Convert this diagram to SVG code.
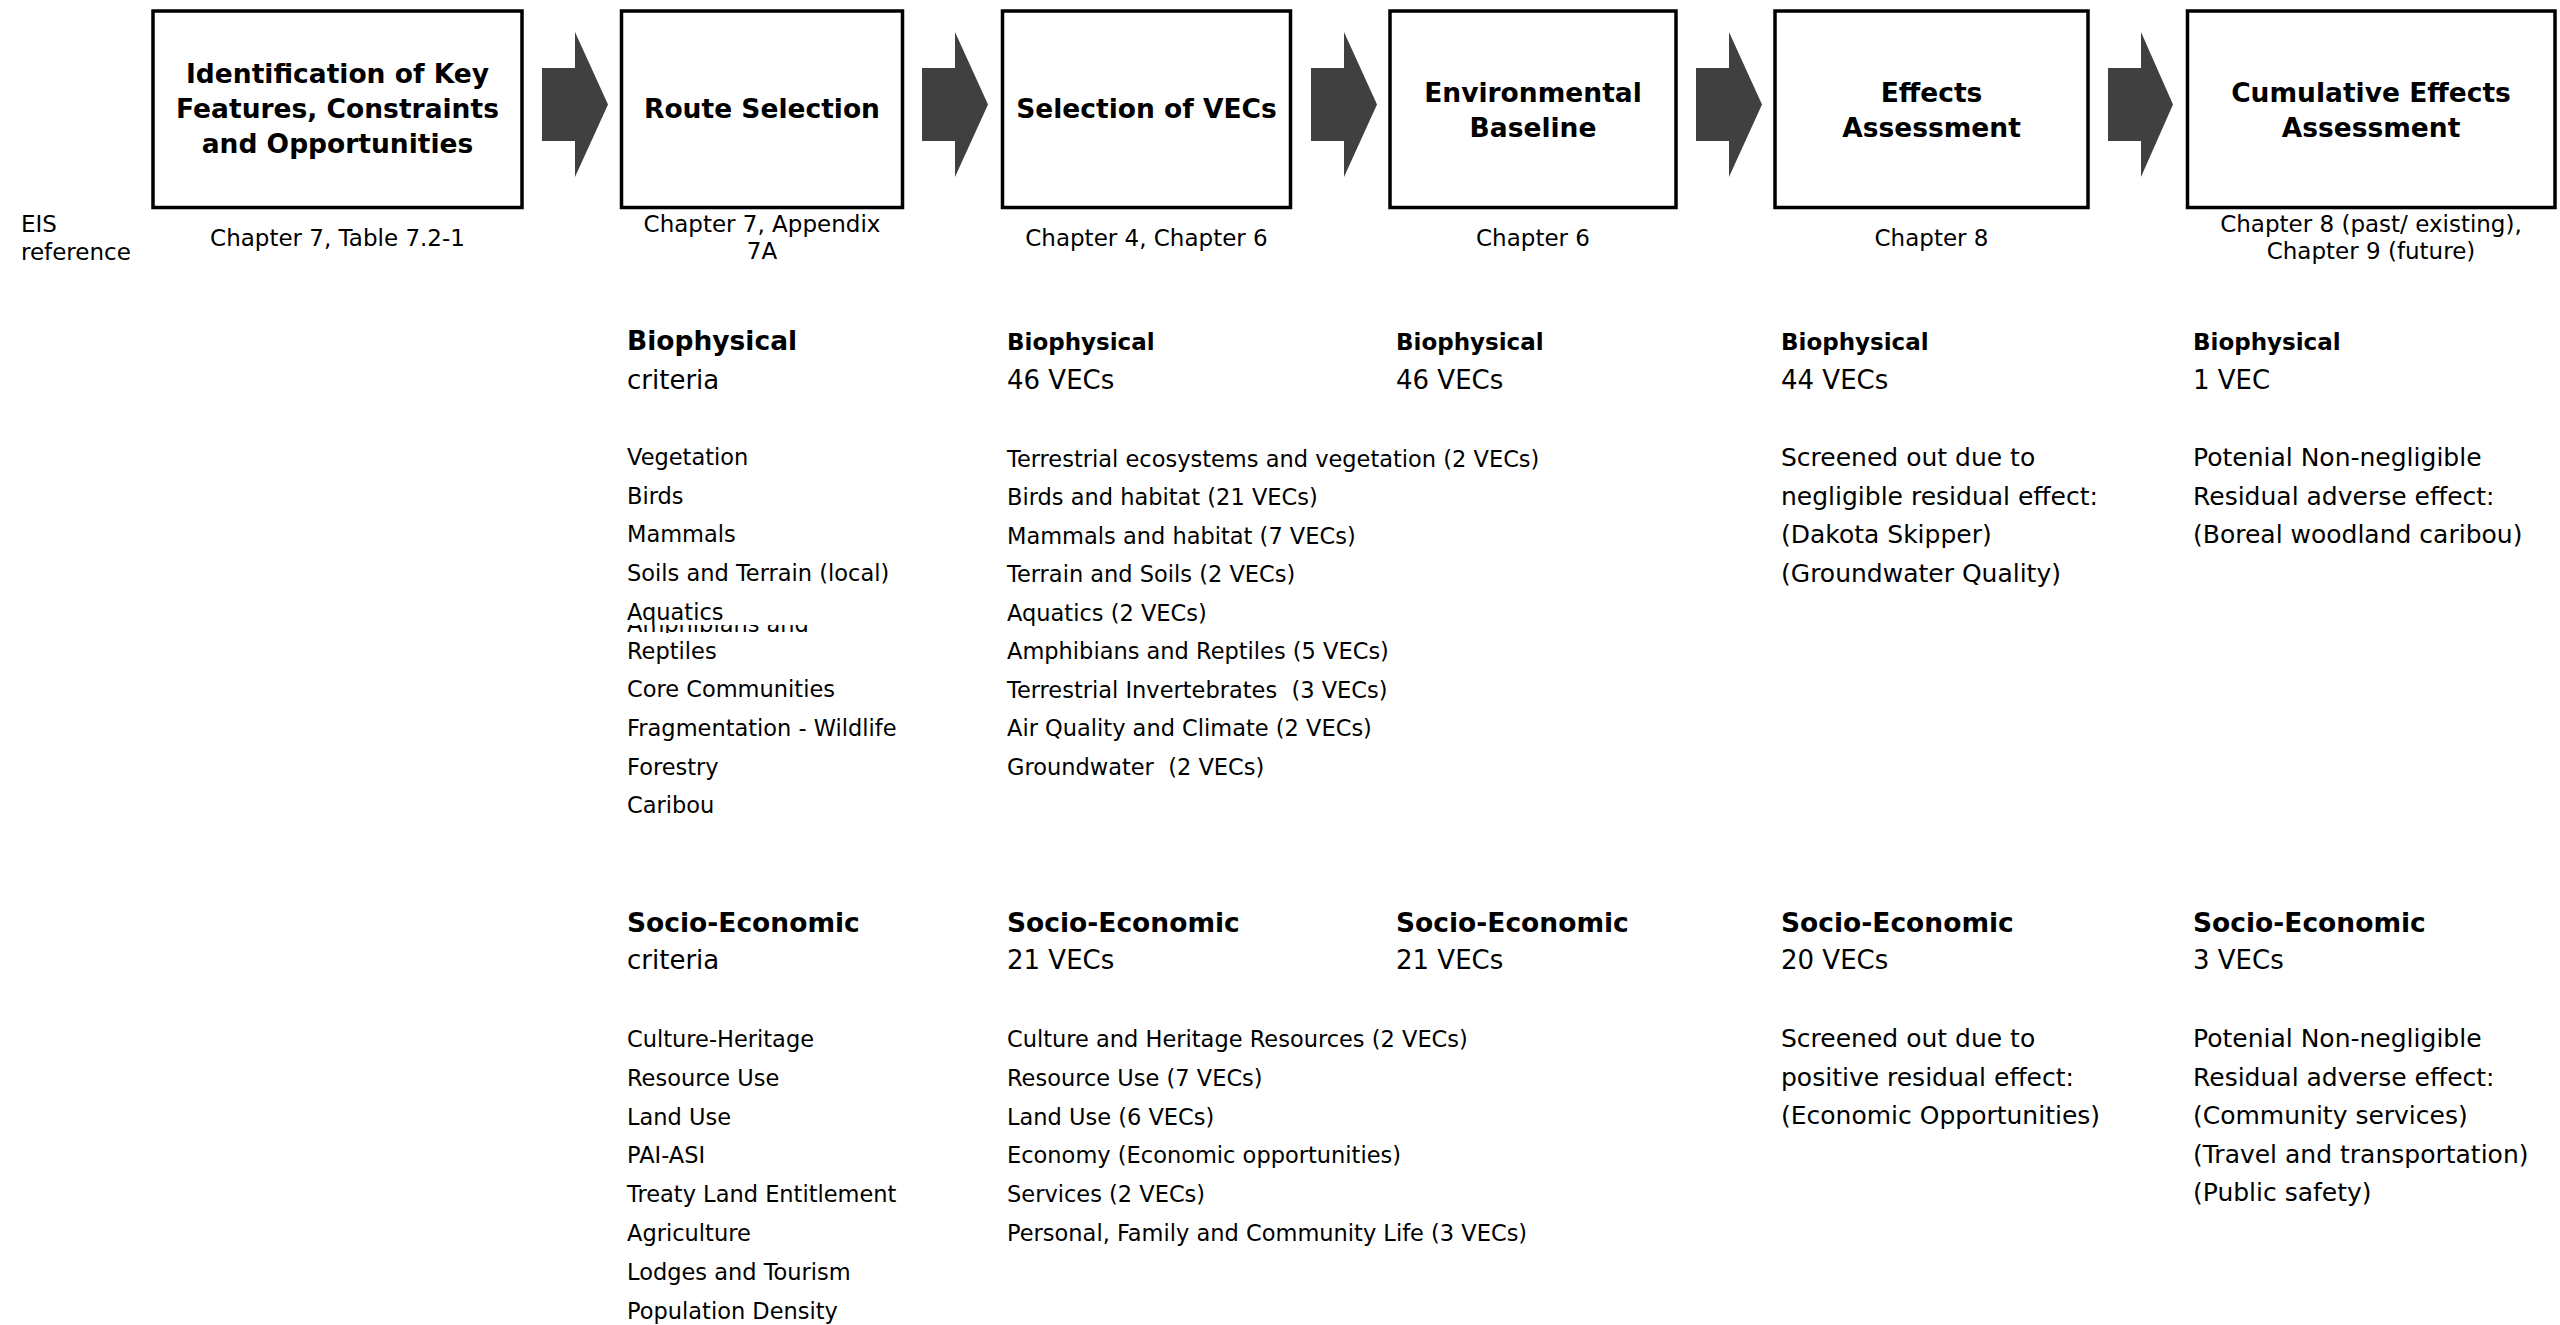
<svg xmlns="http://www.w3.org/2000/svg" width="2560" height="1325" viewBox="0 0 2560 1325">
<style>
text{font-family:"DejaVu Sans",Verdana,sans-serif;fill:#000}
.box{fill:#fff;stroke:#000;stroke-width:3.5}
.arrow{fill:#404040}
.title{font-weight:bold;font-size:26.5px;text-anchor:middle}
.chap{font-size:23px;text-anchor:middle}
.ref{font-size:23px}
.hdr{font-weight:bold;font-size:26.5px}
.hdr2{font-weight:bold;font-size:23px}
.cnt{font-size:26px}
.li{font-size:22.5px}
.li2{font-size:25px}
</style>
<defs>
<clipPath id="amphClip"><rect x="620" y="625" width="300" height="8"/></clipPath>
</defs>
<rect width="2560" height="1325" fill="#fff"/>

<g id="connectors">
<polygon class="arrow" points="542,68 575,68 575,32 608,104.5 575,177 575,141 542,141"/>
<polygon class="arrow" points="922,68 955,68 955,32 988,104.5 955,177 955,141 922,141"/>
<polygon class="arrow" points="1311,68 1344,68 1344,32 1377,104.5 1344,177 1344,141 1311,141"/>
<polygon class="arrow" points="1696,68 1729,68 1729,32 1762,104.5 1729,177 1729,141 1696,141"/>
<polygon class="arrow" points="2108,68 2141,68 2141,32 2173,104.5 2141,177 2141,141 2108,141"/>
</g>

<g id="eis-ref">
<text class="ref" x="21" y="232">EIS</text>
<text class="ref" x="21" y="260">reference</text>
</g>

<g id="node-identification">
<rect class="box" x="153" y="11" width="369" height="196.5"/>
<text class="title" x="337.5" y="83">Identification of Key</text>
<text class="title" x="337.5" y="118">Features, Constraints</text>
<text class="title" x="337.5" y="153">and Opportunities</text>
<text class="chap" x="337.5" y="246">Chapter 7, Table 7.2-1</text>
</g>

<g id="node-route">
<rect class="box" x="621.5" y="11" width="281" height="196.5"/>
<text class="title" x="762" y="118">Route Selection</text>
<text class="chap" x="762" y="232">Chapter 7, Appendix</text>
<text class="chap" x="762" y="259">7A</text>
</g>

<g id="node-vecs">
<rect class="box" x="1002.5" y="11" width="288" height="196.5"/>
<text class="title" x="1146.5" y="118">Selection of VECs</text>
<text class="chap" x="1146.5" y="246">Chapter 4, Chapter 6</text>
</g>

<g id="node-baseline">
<rect class="box" x="1390" y="11" width="286" height="196.5"/>
<text class="title" x="1533" y="102">Environmental</text>
<text class="title" x="1533" y="137">Baseline</text>
<text class="chap" x="1533" y="246">Chapter 6</text>
</g>

<g id="node-effects">
<rect class="box" x="1775" y="11" width="313" height="196.5"/>
<text class="title" x="1931.5" y="102">Effects</text>
<text class="title" x="1931.5" y="137">Assessment</text>
<text class="chap" x="1931.5" y="246">Chapter 8</text>
</g>

<g id="node-cumulative">
<rect class="box" x="2187.5" y="11" width="367.5" height="196.5"/>
<text class="title" x="2371" y="102">Cumulative Effects</text>
<text class="title" x="2371" y="137">Assessment</text>
<text class="chap" x="2371" y="232">Chapter 8 (past/ existing),</text>
<text class="chap" x="2371" y="259">Chapter 9 (future)</text>
</g>

<g id="col-route">
<text class="hdr" x="627" y="350">Biophysical</text>
<text class="cnt" x="627" y="389">criteria</text>
<text class="li" x="627" y="465">Vegetation</text>
<text class="li" x="627" y="503.7">Birds</text>
<text class="li" x="627" y="542.4">Mammals</text>
<text class="li" x="627" y="581.1">Soils and Terrain (local)</text>
<text class="li" x="627" y="619.8">Aquatics</text>
<text class="li" x="627" y="632" clip-path="url(#amphClip)">Amphibians and</text>
<text class="li" x="627" y="658.5">Reptiles</text>
<text class="li" x="627" y="697.2">Core Communities</text>
<text class="li" x="627" y="735.9">Fragmentation - Wildlife</text>
<text class="li" x="627" y="774.6">Forestry</text>
<text class="li" x="627" y="813.3">Caribou</text>
<text class="hdr" x="627" y="932">Socio-Economic</text>
<text class="cnt" x="627" y="969">criteria</text>
<text class="li" x="627" y="1047">Culture-Heritage</text>
<text class="li" x="627" y="1085.8">Resource Use</text>
<text class="li" x="627" y="1124.6">Land Use</text>
<text class="li" x="627" y="1163.4">PAI-ASI</text>
<text class="li" x="627" y="1202.2">Treaty Land Entitlement</text>
<text class="li" x="627" y="1241">Agriculture</text>
<text class="li" x="627" y="1279.8">Lodges and Tourism</text>
<text class="li" x="627" y="1318.6">Population Density</text>
</g>

<g id="col-vecs">
<text class="hdr2" x="1007" y="350">Biophysical</text>
<text class="cnt" x="1007" y="389">46 VECs</text>
<text class="li" x="1007" y="466.5">Terrestrial ecosystems and vegetation (2 VECs)</text>
<text class="li" x="1007" y="505">Birds and habitat (21 VECs)</text>
<text class="li" x="1007" y="543.5">Mammals and habitat (7 VECs)</text>
<text class="li" x="1007" y="582">Terrain and Soils (2 VECs)</text>
<text class="li" x="1007" y="620.5">Aquatics (2 VECs)</text>
<text class="li" x="1007" y="659">Amphibians and Reptiles (5 VECs)</text>
<text class="li" x="1007" y="697.5" xml:space="preserve">Terrestrial Invertebrates  (3 VECs)</text>
<text class="li" x="1007" y="736">Air Quality and Climate (2 VECs)</text>
<text class="li" x="1007" y="774.5" xml:space="preserve">Groundwater  (2 VECs)</text>
<text class="hdr" x="1007" y="932">Socio-Economic</text>
<text class="cnt" x="1007" y="969">21 VECs</text>
<text class="li" x="1007" y="1047">Culture and Heritage Resources (2 VECs)</text>
<text class="li" x="1007" y="1085.8">Resource Use (7 VECs)</text>
<text class="li" x="1007" y="1124.6">Land Use (6 VECs)</text>
<text class="li" x="1007" y="1163.4">Economy (Economic opportunities)</text>
<text class="li" x="1007" y="1202.2">Services (2 VECs)</text>
<text class="li" x="1007" y="1241">Personal, Family and Community Life (3 VECs)</text>
</g>

<g id="col-baseline">
<text class="hdr2" x="1396" y="350">Biophysical</text>
<text class="cnt" x="1396" y="389">46 VECs</text>
<text class="hdr" x="1396" y="932">Socio-Economic</text>
<text class="cnt" x="1396" y="969">21 VECs</text>
</g>

<g id="col-effects">
<text class="hdr2" x="1781" y="350">Biophysical</text>
<text class="cnt" x="1781" y="389">44 VECs</text>
<text class="li2" x="1781" y="466">Screened out due to</text>
<text class="li2" x="1781" y="504.5">negligible residual effect:</text>
<text class="li2" x="1781" y="543">(Dakota Skipper)</text>
<text class="li2" x="1781" y="581.5">(Groundwater Quality)</text>
<text class="hdr" x="1781" y="932">Socio-Economic</text>
<text class="cnt" x="1781" y="969">20 VECs</text>
<text class="li2" x="1781" y="1047">Screened out due to</text>
<text class="li2" x="1781" y="1085.5">positive residual effect:</text>
<text class="li2" x="1781" y="1124">(Economic Opportunities)</text>
</g>

<g id="col-cumulative">
<text class="hdr2" x="2193" y="350">Biophysical</text>
<text class="cnt" x="2193" y="389">1 VEC</text>
<text class="li2" x="2193" y="466">Potenial Non-negligible</text>
<text class="li2" x="2193" y="504.5">Residual adverse effect:</text>
<text class="li2" x="2193" y="543">(Boreal woodland caribou)</text>
<text class="hdr" x="2193" y="932">Socio-Economic</text>
<text class="cnt" x="2193" y="969">3 VECs</text>
<text class="li2" x="2193" y="1047">Potenial Non-negligible</text>
<text class="li2" x="2193" y="1085.5">Residual adverse effect:</text>
<text class="li2" x="2193" y="1124">(Community services)</text>
<text class="li2" x="2193" y="1162.5">(Travel and transportation)</text>
<text class="li2" x="2193" y="1201">(Public safety)</text>
</g>
</svg>
